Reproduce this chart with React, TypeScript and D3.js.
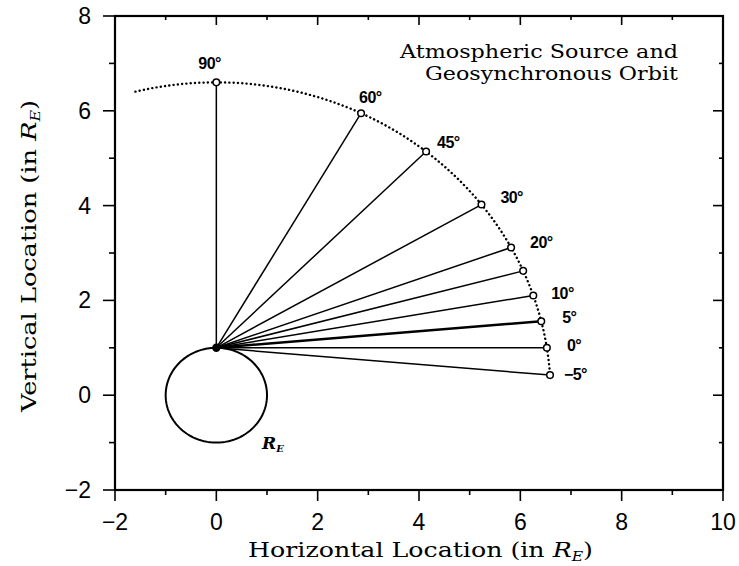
import React from "react";
import * as d3 from "d3";

// ---- data ----
const xDomain = [-2, 10];
const yDomain = [-2, 8];
const xTickValues = [-2, 0, 2, 4, 6, 8, 10];
const yTickValues = [-2, 0, 2, 4, 6, 8];
const source = { x: 0, y: 1 };
const earthRadius = 1;
const orbitRadius = 6.6;
const orbitArcStartDeg = 104;
const orbitArcEndDeg = 3.7;
// elevation angle (deg) of line of sight from source and where it meets the orbit
const angleLabels = ["90°", "60°", "45°", "30°", "20°", "", "10°", "5°", "0°", "−5°"];
const angleValues = [90, 60, 45, 30, 20, 15, 10, 5, 0, -5];
const orbitX = [0, 2.857, 4.14, 5.233, 5.818, 6.056, 6.256, 6.413, 6.524, 6.586];
const orbitY = [6.6, 5.949, 5.14, 4.022, 3.117, 2.623, 2.103, 1.561, 1.0, 0.424];

const W = 739;
const H = 566;
const left = 115, right = 723, top = 16, bottom = 490;

export default function App() {
  const x = d3.scaleLinear().domain(xDomain).range([left, right]);
  const y = d3.scaleLinear().domain(yDomain).range([bottom, top]);

  const minorX = d3.range(xDomain[0], xDomain[1] + 1, 1);
  const minorY = d3.range(yDomain[0], yDomain[1] + 1, 1);

  const lineGen = d3
    .line<[number, number]>()
    .x((d) => x(d[0]))
    .y((d) => y(d[1]))
    .curve(d3.curveLinear);

  const earthPts: [number, number][] = d3
    .range(0, 361, 2)
    .map((a) => [earthRadius * Math.cos((a * Math.PI) / 180), earthRadius * Math.sin((a * Math.PI) / 180)]);
  const orbitPts: [number, number][] = d3
    .range(orbitArcStartDeg, orbitArcEndDeg - 0.01, -0.5)
    .concat([orbitArcEndDeg])
    .map((a) => [orbitRadius * Math.cos((a * Math.PI) / 180), orbitRadius * Math.sin((a * Math.PI) / 180)]);

  const labelOffsets: Record<number, [number, number]> = {
    90: [-18, -19],
    60: [-2, -16],
    45: [11, -10],
    30: [19, -8],
    20: [19, -5],
    15: [0, 0],
    10: [18, -3],
    5: [21, -4],
    0: [20, -3],
    [-5]: [14, -1],
  };

  const serif = "'DejaVu Serif', serif";
  const sans = "'Liberation Sans', Arial, sans-serif";

  return (
    <svg width={W} height={H} style={{ position: "absolute", left: 0, top: 0, background: "#fff" }}>
      <rect x={0} y={0} width={W} height={H} fill="#fff" />
      {/* ticks */}
      <g stroke="#000" strokeWidth={1.6}>
        {minorX.map((v) => {
          const major = v % 2 === 0;
          return (
            <g key={"xt" + v}>
              <line x1={x(v)} x2={x(v)} y1={bottom} y2={bottom + (major ? 11 : 5)} />
              <line x1={x(v)} x2={x(v)} y1={top} y2={top + (major ? 9 : 4)} />
            </g>
          );
        })}
        {minorY.map((v) => {
          const major = v % 2 === 0;
          return (
            <g key={"yt" + v}>
              <line x1={left} x2={left - (major ? 12 : 6)} y1={y(v)} y2={y(v)} />
              <line x1={right} x2={right - (major ? 10 : 4)} y1={y(v)} y2={y(v)} />
            </g>
          );
        })}
      </g>
      <rect x={left} y={top} width={right - left} height={bottom - top} fill="none" stroke="#000" strokeWidth={2.2} />

      {/* tick labels */}
      <g fontFamily={sans} fontSize={23} fill="#000">
        {xTickValues.map((v) => (
          <text key={"xl" + v} x={x(v)} y={530} textAnchor="middle">
            {v < 0 ? "−" + Math.abs(v) : v}
          </text>
        ))}
        {yTickValues.map((v) => (
          <text key={"yl" + v} x={91} y={y(v) + 8} textAnchor="end">
            {v < 0 ? "−" + Math.abs(v) : v}
          </text>
        ))}
      </g>

      {/* axis titles */}
      <text
        x={248}
        y={557}
        fontFamily={serif}
        fontSize={21}
        fill="#000"
        textLength={345}
        lengthAdjust="spacingAndGlyphs"
      >
        Horizontal Location (in <tspan fontStyle="italic">R</tspan>
        <tspan fontStyle="italic" fontSize={13} dy={4}>E</tspan>
        <tspan dy={-4}>)</tspan>
      </text>
      <text
        transform={`translate(36, 412) rotate(-90)`}
        fontFamily={serif}
        fontSize={21}
        fill="#000"
        textLength={312}
        lengthAdjust="spacingAndGlyphs"
      >
        Vertical Location (in <tspan fontStyle="italic">R</tspan>
        <tspan fontStyle="italic" fontSize={13} dy={4}>E</tspan>
        <tspan dy={-4}>)</tspan>
      </text>

      {/* title */}
      <g fontFamily={serif} fontSize={18} fill="#000">
        <text x={400} y={58} textLength={278} lengthAdjust="spacingAndGlyphs">Atmospheric Source and</text>
        <text x={425} y={80} textLength={253} lengthAdjust="spacingAndGlyphs">Geosynchronous Orbit</text>
      </g>

      {/* earth */}
      <path d={lineGen(earthPts) || ""} fill="none" stroke="#000" strokeWidth={2} />
      <text x={262} y={449} fontFamily={serif} fontStyle="italic" fontWeight="bold" fontSize={17} fill="#000">
        R<tspan fontSize={10} dy={3}>E</tspan>
      </text>

      {/* orbit arc */}
      <path
        d={lineGen(orbitPts) || ""}
        fill="none"
        stroke="#000"
        strokeWidth={2.4}
        strokeDasharray="0.1 4.2"
        strokeLinecap="round"
      />

      {/* sight lines */}
      {angleValues.map((a, i) => (
        <line
          key={"ln" + a}
          x1={x(source.x)}
          y1={y(source.y)}
          x2={x(orbitX[i])}
          y2={y(orbitY[i])}
          stroke="#000"
          strokeWidth={a === 5 ? 2.5 : 1.5}
        />
      ))}
      {angleValues.map((a, i) => (
        <circle key={"pt" + a} cx={x(orbitX[i])} cy={y(orbitY[i])} r={3.3} fill="#fff" stroke="#000" strokeWidth={1.5} />
      ))}
      <circle cx={x(source.x)} cy={y(source.y)} r={4.2} fill="#000" />

      {/* angle labels */}
      <g fontFamily={sans} fontWeight="bold" fontSize={16} fill="#000">
        {angleValues.map((a, i) =>
          angleLabels[i] ? (
            <text
              key={"al" + a}
              x={x(orbitX[i]) + labelOffsets[a][0]}
              y={y(orbitY[i]) + labelOffsets[a][1] + 6}
              letterSpacing={-0.6}
            >
              {angleLabels[i]}
            </text>
          ) : null
        )}
      </g>
    </svg>
  );
}
